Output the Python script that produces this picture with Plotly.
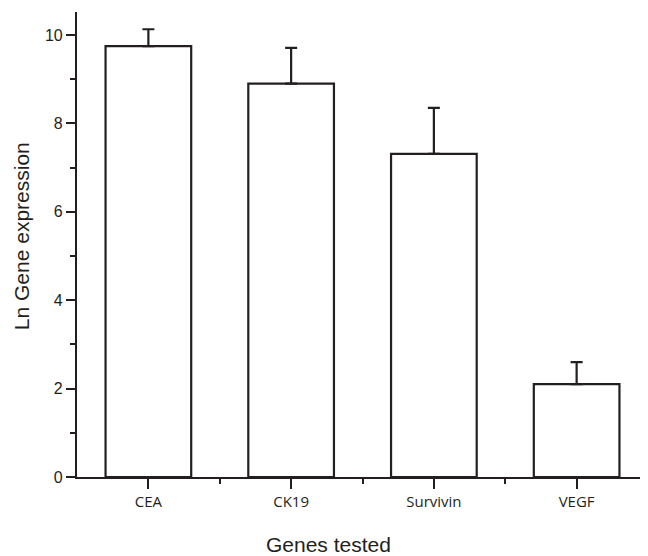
import plotly.graph_objects as go

genes = ["CEA", "CK19", "Survivin", "VEGF"]
ln_expression = [9.75, 8.9, 7.31, 2.1]
error_upper = [0.38, 0.81, 1.04, 0.5]

ink = "#231f20"
fig = go.Figure()
fig.add_trace(go.Bar(
    x=list(range(len(genes))), y=ln_expression, width=0.6,
    marker=dict(color="white", line=dict(color=ink, width=2.2)),
    error_y=dict(type="data", symmetric=False, array=error_upper,
                 arrayminus=[0] * len(genes), color=ink, thickness=2.2, width=6),
))

# the page body has an 8px margin, so the figure is shifted by 8px
fig.update_layout(
    width=640, height=548,
    margin=dict(l=69, r=0, t=4, b=79),
    plot_bgcolor="white", paper_bgcolor="white",
    showlegend=False,
    font=dict(family="Liberation Sans, Arial, sans-serif", color=ink, size=16),
    xaxis=dict(
        range=[-0.5, 3.5], tickvals=list(range(len(genes))), ticktext=genes,
        showline=True, linecolor=ink, linewidth=2.2, showgrid=False, zeroline=False,
        ticks="outside", ticklen=10, tickwidth=2, tickcolor=ink,
        tickfont=dict(family="Open Sans, Liberation Sans, sans-serif", size=15, color=ink),
        minor=dict(tickvals=[0.5, 1.5, 2.5], ticks="outside", ticklen=5,
                   tickwidth=2, tickcolor=ink, showgrid=False),
    ),
    yaxis=dict(
        range=[0, 10.52], tickvals=[0, 2, 4, 6, 8, 10],
        showline=True, linecolor=ink, linewidth=2.2, showgrid=False, zeroline=False,
        ticks="outside", ticklen=9, tickwidth=2, tickcolor=ink,
        tickfont=dict(size=16, color=ink),
        minor=dict(tickvals=[1, 3, 5, 7, 9], ticks="outside", ticklen=5,
                   tickwidth=2, tickcolor=ink, showgrid=False),
    ),
    annotations=[
        dict(text="Genes tested", x=0.4396, y=-0.1462, xref="paper", yref="paper",
             showarrow=False, font=dict(size=21, color=ink),
             xanchor="center", yanchor="middle"),
        dict(text="Ln Gene expression", x=-0.098, y=0.518, xref="paper", yref="paper",
             showarrow=False, textangle=-90, font=dict(size=21, color=ink),
             xanchor="center", yanchor="middle"),
    ],
)

fig.write_html("out.html")
